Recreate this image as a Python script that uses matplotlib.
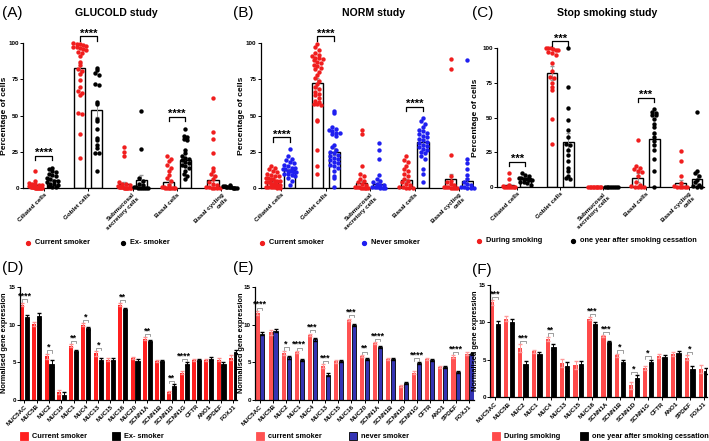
import numpy as np
import matplotlib
matplotlib.use("Agg")
import matplotlib.pyplot as plt
from matplotlib.lines import Line2D

plt.rcParams['font.family'] = ['Liberation Sans', 'DejaVu Sans']

# ---------------- DATA ----------------
cell_types = ["Ciliated cells", "Goblet cells", "Submucosal\nsecretory cells",
              "Basal cells", "Basal cycling\ncells"]

# (A) GLUCOLD study
A_cur = [
    [12, 4.5, 3.5, 3, 2.5, 2, 2, 1.5, 1.5, 1, 1, 0.8, 0.5, 0.5, 0.3, 0.2, 0.1, 0, 0, 0, 0, 0],
    [100, 99.5, 99, 98.5, 98, 97.5, 97, 96.5, 96, 95, 94, 93, 91, 87, 84.5, 82, 80.5, 78.7,
     74.5, 69.4, 66.7, 65.3, 64.4, 52, 51, 37.5, 21],
    [28, 25, 22, 4, 3, 2.5, 2, 1.5, 1, 1, 0.5, 0.5, 0.3, 0, 0, 0, 0, 0, 0],
    [22, 20, 18.5, 16, 14, 11.6, 9, 7, 4.6, 2.3, 1, 0.5, 0, 0, 0, 0, 0, 0, 0],
    [62, 38.5, 34, 24, 14, 12, 10, 8, 6, 4, 3, 2, 1, 0.5, 0, 0, 0, 0],
]
A_ex = [
    [14, 13, 12, 11, 10, 9, 8, 7, 6, 5, 5, 4, 3, 3, 2, 1.5, 1, 0.5],
    [82.6, 81.5, 79, 78, 71.8, 71.3, 59, 58, 47.5, 46.3, 40.5, 34.7, 32.9, 30, 27.8, 24.3, 23.8, 12],
    [53, 27, 7, 5, 3, 2, 1, 0.5, 0, 0, 0, 0, 0, 0],
    [41, 36, 35, 34, 33, 26, 24, 22, 21, 20, 19, 18, 17, 16, 15, 14, 12, 10, 8, 6],
    [2, 1.5, 1.5, 1, 1, 0.8, 0.5, 0.5, 0.3, 0.2, 0, 0],
]
A_cur_mean = [2, 82.6, 2.5, 4, 5.8]
A_ex_mean = [5.5, 53.7, 5.5, 19, 1]
A_cur_sem = [0.7, 3.5, 1.6, 1.5, 3.5]
A_ex_sem = [1.0, 5.0, 3.2, 2.0, 0.2]
A_sig = ["****", "****", "", "****", ""]

# (B) NORM study
B_cur = [
    [15, 14, 13, 12, 11, 10, 9, 8, 8, 7, 7, 6, 6, 5, 5, 5, 4, 4, 4, 3, 3, 3, 2, 2, 2, 1, 1, 1, 0.5, 0.5, 0, 0],
    [99, 97, 95, 93, 92, 91, 90, 90, 89, 88, 87, 86, 85, 84, 83, 82, 80, 78, 76, 74, 72, 70, 68, 66,
     65, 64, 62, 60, 59, 58, 58, 57, 47, 46, 26, 15, 10],
    [40, 37, 15, 10, 8, 6, 5, 4, 3, 2, 1, 1, 0.5, 0, 0, 0, 0, 0],
    [22, 19, 18, 15, 13, 12, 10, 8, 6, 5, 4, 3, 2, 1, 1, 0, 0, 0],
    [89, 82, 23, 8, 5, 4, 3, 2, 1, 1, 0.5, 0, 0, 0, 0],
]
B_never = [
    [27, 22, 20, 19, 18, 17, 16, 15, 14, 14, 13, 13, 12, 12, 12, 11, 11, 10, 10, 9, 8, 7, 5, 2],
    [53, 52, 42, 41, 40, 39, 38, 38, 37, 36, 30, 28, 26, 25, 24, 23, 22, 21, 20, 19, 18, 17, 16,
     15, 14, 12, 8, 7, 1],
    [31, 26, 20, 9, 6, 5, 4, 3, 2, 2, 1, 1, 0.5, 0, 0, 0],
    [48, 46, 44, 42, 40, 39, 38, 37, 36, 35, 34, 33, 32, 31, 30, 29, 28, 27, 26, 25, 24, 22, 20,
     13, 10, 4],
    [88, 20, 17, 13, 9, 6, 4, 3, 2, 1, 1, 0, 0, 0],
]
B_cur_mean = [4.8, 72.3, 3.7, 5.3, 6.0]
B_never_mean = [12.2, 25, 3, 31.9, 4.8]
B_cur_sem = [0.6, 3.5, 1.2, 1.0, 3.5]
B_never_sem = [0.8, 2.5, 1.0, 1.8, 2.2]
B_sig = ["****", "****", "", "****", ""]

# (C) Stop smoking study
C_during = [
    [10, 6, 2, 1, 0.5, 0, 0, 0, 0, 0, 0],
    [100, 100, 99.5, 99, 98.5, 98, 97, 96, 95, 89, 83, 79, 78, 75, 72, 70, 49, 31],
    [0, 0, 0, 0, 0, 0, 0, 0, 0, 0],
    [34, 15, 14, 13, 12, 11, 8, 4, 2, 1, 0, 0, 0, 0],
    [26, 19, 8, 3, 1, 0, 0, 0, 0, 0],
]
C_after = [
    [10, 9, 8, 7, 7, 6, 6, 5, 5, 4, 4, 3, 2],
    [100, 71.5, 57, 48.5, 41, 36, 31, 30, 27, 23, 19, 14, 12, 8, 7, 6],
    [0, 0, 0, 0, 0, 0, 0, 0],
    [56, 54, 53, 52, 52, 49, 45, 43, 39, 36, 33, 30, 27, 20, 12, 0],
    [54, 12, 10, 8, 5, 4, 2, 1, 0, 0],
]
C_during_mean = [1.5, 81.6, 0, 7, 3.3]
C_after_mean = [6.4, 32.7, 0, 34.6, 6]
C_during_sem = [0.8, 5, 0, 3, 2]
C_after_sem = [0.7, 6.5, 0, 3.8, 3.5]
C_sig = ["***", "***", "", "***", ""]

# (D) GLUCOLD genes
D_genes = ["MUC5AC", "MUC5B", "MUC2", "MUC19", "MUC1", "MUC4", "MUC13", "MUC15", "MUC16",
           "MUC20", "SCNN1A", "SCNN1B", "SCNN1D", "SCNN1G", "CFTR", "ANO1", "SPDEF", "FOXJ1"]
D_cur = [12.67, 10.1, 5.78, 1.0, 7.2, 10.0, 6.18, 5.29, 12.67, 5.56, 8.13, 5.2, 1.02, 3.6, 5.29, 5.29, 5.29, 5.6]
D_ex = [11.0, 11.15, 4.8, 0.67, 6.53, 9.5, 5.24, 5.33, 12.09, 5.16, 7.78, 5.2, 1.78, 4.8, 5.29, 5.42, 4.71, 6.36]
D_cur_sem = [0.25, 0.3, 0.35, 0.3, 0.2, 0.2, 0.3, 0.2, 0.15, 0.15, 0.15, 0.15, 0.15, 0.2, 0.15, 0.15, 0.2, 0.3]
D_ex_sem = [0.25, 0.4, 0.45, 0.3, 0.15, 0.2, 0.35, 0.2, 0.15, 0.2, 0.15, 0.15, 0.3, 0.2, 0.15, 0.2, 0.3, 0.2]
D_sig = ["****", "", "*", "", "**", "*", "*", "", "**", "", "**", "", "**", "****", "", "", "", ""]

# (E) NORM genes
E_genes = ["MUC5AC", "MUC5B", "MUC2", "MUC1", "MUC4", "MUC13", "MUC15", "MUC16", "MUC20",
           "SCNN1A", "SCNN1B", "SCNN1D", "SCNN1G", "CFTR", "ANO1", "SPDEF", "FOXJ1"]
E_cur = [11.6, 9.0, 6.23, 6.36, 8.68, 4.5, 5.1, 10.68, 5.83, 7.52, 5.47, 1.87, 3.6, 5.4, 4.4, 5.74, 6.14]
E_never = [8.8, 9.2, 5.65, 5.3, 8.05, 3.34, 5.16, 10.0, 5.43, 6.99, 5.47, 2.22, 4.9, 5.3, 4.36, 3.7, 6.14]
E_cur_sem = [0.25, 0.3, 0.3, 0.15, 0.15, 0.25, 0.2, 0.15, 0.15, 0.12, 0.12, 0.15, 0.2, 0.12, 0.15, 0.2, 0.2]
E_never_sem = [0.2, 0.2, 0.2, 0.12, 0.15, 0.2, 0.15, 0.12, 0.12, 0.12, 0.12, 0.15, 0.15, 0.12, 0.15, 0.15, 0.15]
E_sig = ["****", "", "*", "****", "***", "***", "", "***", "**", "****", "", "", "****", "", "", "****", ""]

# (F) Stop smoking genes
F_genes = ["MUC5AC", "MUC5B", "MUC2", "MUC1", "MUC4", "MUC13", "MUC15", "MUC16", "SCNN1A",
           "SCNN1B", "SCNN1D", "SCNN1G", "CFTR", "ANO1", "SPDEF", "FOXJ1"]
F_during = [12.65, 10.47, 6.57, 6.12, 7.77, 4.57, 4.3, 10.47, 8.12, 5.59, 1.6, 3.95, 5.5, 5.77, 5.28, 3.8]
F_after = [9.72, 10.07, 4.44, 5.72, 6.75, 4.13, 4.39, 9.8, 7.32, 4.75, 2.57, 4.7, 5.41, 5.95, 3.82, 3.5]
F_during_sem = [0.3, 0.35, 0.5, 0.2, 0.3, 0.5, 0.5, 0.2, 0.15, 0.2, 0.45, 0.25, 0.25, 0.3, 0.35, 0.5]
F_after_sem = [0.4, 0.35, 0.45, 0.25, 0.4, 0.6, 0.45, 0.2, 0.2, 0.25, 0.4, 0.3, 0.25, 0.25, 0.4, 0.4]
F_sig = ["***", "", "***", "", "**", "", "", "***", "***", "*", "*", "*", "", "", "*", ""]

# ---------------- FIGURE ----------------
W, H = 709, 441
fig = plt.figure(figsize=(W / 100, H / 100), dpi=100)

def fx(px):
    return px / W

def fy(py):
    return 1 - py / H

def add_ax(x0, x1, yt, yb):
    return fig.add_axes([x0 / W, 1 - yb / H, (x1 - x0) / W, (yb - yt) / H])

def style(ax):
    for s in ("top", "right"):
        ax.spines[s].set_visible(False)
    for s in ("left", "bottom"):
        ax.spines[s].set_linewidth(0.9)
    ax.tick_params(labelsize=4.5, length=2, width=0.7, pad=1)
    for t in ax.get_yticklabels():
        t.set_fontweight("bold")

def swarm(vals, center, binw, dx, maxw):
    vals = np.asarray(vals, dtype=float)
    xs = np.full(len(vals), float(center))
    bins = np.round(vals / binw)
    for b in np.unique(bins):
        idx = np.where(bins == b)[0]
        k = len(idx)
        if k > 1:
            step = min(dx, 2 * maxw / (k - 1))
            xs[idx] = center + (np.arange(k) - (k - 1) / 2) * step
    return xs

RED = "#f01e1e"
BLUE = "#1f1ff0"

def top_panel(ax, g1, g2, m1, m2, s1, s2, c1, c2, sig):
    x = np.arange(len(cell_types))
    off = 0.19
    ax.bar(x - off, m1, width=0.25, facecolor="white", edgecolor="black", lw=1.0, zorder=1)
    ax.bar(x + off, m2, width=0.25, facecolor="white", edgecolor="black", lw=1.0, zorder=1)
    ax.errorbar(x - off, m1, yerr=s1, fmt="none", ecolor="#999999", elinewidth=0.7, capsize=1.5, zorder=2)
    ax.errorbar(x + off, m2, yerr=s2, fmt="none", ecolor="#999999", elinewidth=0.7, capsize=1.5, zorder=2)
    for i in range(len(x)):
        xs = swarm(g1[i], i - off, 3.0, 0.085, 0.15)
        ax.scatter(xs, g1[i], s=10, c=c1, lw=0, zorder=3, clip_on=False)
        xs = swarm(g2[i], i + off, 3.0, 0.085, 0.15)
        ax.scatter(xs, g2[i], s=10, c=c2, lw=0, zorder=3, clip_on=False)
        if sig[i]:
            y = min(max(max(g1[i]), max(g2[i])) + 8, 104.5)
            ax.plot([i - off, i - off, i + off, i + off], [y - 3, y, y, y - 3], color="black",
                    lw=0.9, clip_on=False, zorder=4)
            ax.text(i, y - 1.5, sig[i], ha="center", va="bottom", fontsize=8, fontweight="bold")
    ax.set_xlim(-0.47, 4.35)
    ax.set_ylim(0, 100)
    ax.set_yticks([0, 25, 50, 75, 100])
    ax.set_xticks(x)
    ax.set_xticklabels(cell_types, rotation=45, ha="right", rotation_mode="anchor",
                       fontsize=5.1, fontweight="bold")
    style(ax)

def bottom_panel(ax, genes, v1, v2, e1, e2, c1, c2, ec1, edge2, sig, w, off, xr):
    x = np.arange(len(genes))
    ax.bar(x - off, v1, width=w, color=c1, lw=0, zorder=1)
    ax.bar(x + off, v2, width=w, color=c2, edgecolor=edge2, lw=0.6, zorder=1)
    ax.errorbar(x - off, v1, yerr=e1, fmt="none", ecolor=ec1, elinewidth=0.7, capsize=1.2, zorder=2)
    ax.errorbar(x + off, v2, yerr=e2, fmt="none", ecolor="black", elinewidth=0.7, capsize=1.2, zorder=2)
    for i in range(len(genes)):
        if sig[i]:
            y = max(v1[i] + e1[i], v2[i] + e2[i]) + 0.45
            ax.plot([i - off, i - off, i + off, i + off], [y - 0.3, y, y, y - 0.3], color="#777777",
                    lw=0.5, zorder=3)
            ax.text(i, y - 0.2, sig[i], ha="center", va="bottom", fontsize=6.5, fontweight="bold")
    ax.set_xlim(*xr)
    ax.set_ylim(0, 15)
    ax.set_yticks([0, 5, 10, 15])
    ax.set_xticks(x)
    ax.set_xticklabels(genes, rotation=45, ha="right", rotation_mode="anchor",
                       fontsize=5.4, fontweight="bold")
    style(ax)

# top row
axA = add_ax(23, 237, 43, 188)
top_panel(axA, A_cur, A_ex, A_cur_mean, A_ex_mean, A_cur_sem, A_ex_sem, RED, "black", A_sig)
axB = add_ax(260.5, 474.5, 43, 188)
top_panel(axB, B_cur, B_never, B_cur_mean, B_never_mean, B_cur_sem, B_never_sem, RED, BLUE, B_sig)
axC = add_ax(497, 704, 47.7, 187.3)
top_panel(axC, C_during, C_after, C_during_mean, C_after_mean, C_during_sem, C_after_sem, RED, "black", C_sig)

# bottom row
axD = add_ax(20.2, 237, 287, 399.7)
bottom_panel(axD, D_genes, D_cur, D_ex, D_cur_sem, D_ex_sem, "#ff1f1f", "black", "#ff8c8c", "black",
             D_sig, 0.33, 0.2, (-0.35, 17.3))
axE = add_ax(255, 474, 287.3, 399.7)
bottom_panel(axE, E_genes, E_cur, E_never, E_cur_sem, E_never_sem, "#ff5252", "#3434b4", "#ff9a9a", "black",
             E_sig, 0.31, 0.19, (-0.38, 16.38))
axF = add_ax(490, 707, 284.7, 397.3)
bottom_panel(axF, F_genes, F_during, F_after, F_during_sem, F_after_sem, "#ff4a4a", "black", "#ff9a9a", "black",
             F_sig, 0.31, 0.2, (-0.36, 15.25))

# titles and panel labels
for x, t in [(116, "GLUCOLD study"), (374, "NORM study"), (607, "Stop smoking study")]:
    fig.text(fx(x), fy(13), t, ha="center", va="center", fontsize=7.6, fontweight="bold")
for x, y, t in [(2, 13, "(A)"), (233, 13, "(B)"), (472, 13, "(C)"),
                (2, 268, "(D)"), (233, 268, "(E)"), (472, 270, "(F)")]:
    fig.text(fx(x), fy(y), t, ha="left", va="center", fontsize=11)

# y labels
for x, y in [(5, 116), (241, 116), (476, 118)]:
    fig.text(fx(x), fy(y), "Percentage of cells", rotation=90, ha="center", va="center",
             fontsize=6.1, fontweight="bold")
for x, y in [(5, 343), (241, 343), (476, 341)]:
    fig.text(fx(x), fy(y), "Normalised gene expression", rotation=90, ha="center", va="center",
             fontsize=5.3, fontweight="bold")

# top legends (dots)
def dot_legend(items, y):
    for xd, col, label in items:
        fig.add_artist(Line2D([fx(xd)], [fy(y)], transform=fig.transFigure, marker="o",
                              markersize=2.8, color=col, lw=0))
        fig.text(fx(xd + 7), fy(y), label, ha="left", va="center", fontsize=5.3, fontweight="bold")

dot_legend([(28, RED, "Current smoker"), (123, "black", "Ex- smoker")], 243)
dot_legend([(262, RED, "Current smoker"), (364, BLUE, "Never smoker")], 243)
dot_legend([(479, RED, "During smoking"), (573, "black", "one year after smoking cessation")], 241)

# bottom legends (squares)
def sq_legend(items, y):
    for xd, col, edge, label in items:
        fig.add_artist(Line2D([fx(xd)], [fy(y)], transform=fig.transFigure, marker="s",
                              markersize=5.5, markerfacecolor=col, markeredgecolor=edge,
                              markeredgewidth=0.6, lw=0))
        fig.text(fx(xd + 8), fy(y), label, ha="left", va="center", fontsize=5.3, fontweight="bold")

sq_legend([(24, "#ff1f1f", "#ff1f1f", "Current smoker"), (116, "black", "black", "Ex- smoker")], 436)
sq_legend([(260, "#ff5252", "#ff5252", "current smoker"), (353, "#3434b4", "black", "never smoker")], 436)
sq_legend([(496, "#ff4a4a", "#ff4a4a", "During smoking"), (584, "black", "black",
                                                            "one year after smoking cessation")], 436)

fig.savefig("out.png", dpi=100)
